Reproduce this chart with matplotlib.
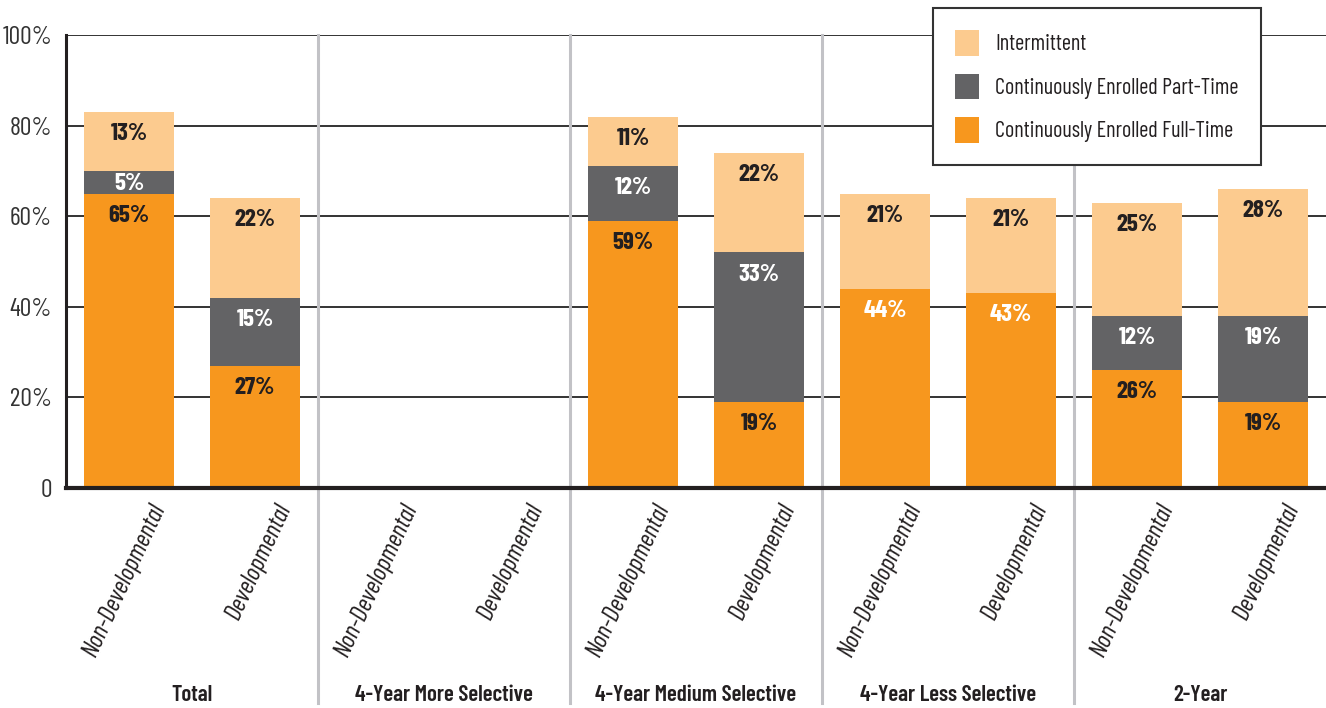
import numpy as np
import matplotlib.pyplot as plt

plt.rcParams['font.family'] = ['Barlow Condensed', 'DejaVu Sans']

# data
groups = ['Total', '4-Year More Selective', '4-Year Medium Selective',
          '4-Year Less Selective', '2-Year']
subgroups = ['Non-Developmental', 'Developmental']
full_time = [65, 27, 0, 0, 59, 19, 44, 43, 26, 19]
part_time = [5, 15, 0, 0, 12, 33, 0, 0, 12, 19]
intermittent = [13, 22, 0, 0, 11, 22, 21, 21, 25, 28]
series_names = ['Continuously Enrolled Full-Time',
                'Continuously Enrolled Part-Time', 'Intermittent']

c_full = '#F7971E'
c_part = '#636365'
c_int = '#FCCB8F'
dark = '#231F20'

fig = plt.figure(figsize=(13.26, 7.08), dpi=100)
ax = fig.add_axes([66/1326, 1-488/708, 1-66/1326, 453/708])

x = np.arange(len(full_time)) + 0.5
w = 0.72
full_time = np.array(full_time)
part_time = np.array(part_time)
intermittent = np.array(intermittent)

b1 = ax.bar(x, full_time, w, color=c_full, zorder=3, label=series_names[0])
b2 = ax.bar(x, part_time, w, bottom=full_time, color=c_part, zorder=3,
            label=series_names[1])
b3 = ax.bar(x, intermittent, w, bottom=full_time + part_time, color=c_int,
            zorder=3, label=series_names[2])

# value labels just under each segment top
def put_labels(vals, bottoms, colors):
    for xi, v, b, col in zip(x, vals, bottoms, colors):
        if v <= 0:
            continue
        off = -1.5 if v < 8 else -8
        ax.annotate('%d%%' % v, (xi, b + v), xytext=(0, off),
                    textcoords='offset points', ha='center', va='top',
                    fontsize=18, fontweight='bold', color=col, zorder=5)

full_cols = [dark] * 10
full_cols[6] = full_cols[7] = 'white'
put_labels(full_time, np.zeros(10), full_cols)
put_labels(part_time, full_time, ['white'] * 10)
put_labels(intermittent, full_time + part_time, [dark] * 10)

ax.set_xlim(0, 10)
ax.set_ylim(0, 100)
ax.set_yticks([0, 20, 40, 60, 80, 100])
ax.set_yticklabels(['0', '20%', '40%', '60%', '80%', '100%'])
ax.tick_params(axis='y', length=0, pad=10, labelsize=18.5, labelcolor='#333333')
ax.set_xticks([])
ax.yaxis.grid(True, color='#333333', linewidth=1.4, zorder=1)
ax.set_axisbelow(True)

for s in ['top', 'right']:
    ax.spines[s].set_visible(False)
ax.spines['left'].set_linewidth(2.2)
ax.spines['left'].set_color(dark)
ax.spines['bottom'].set_linewidth(3)
ax.spines['bottom'].set_color(dark)
ax.spines['bottom'].set_zorder(4)

# group separators run down past the axis
for sx in [2, 4, 6, 8]:
    ax.axvline(sx, ymin=-0.475, ymax=1, color='#C2C2C6', linewidth=2.2,
               clip_on=False, zorder=2)

# rotated category labels
for i, xi in enumerate(x):
    ax.text(xi + 0.24, -3.6, subgroups[i % 2], rotation=65,
            rotation_mode='anchor', ha='right', va='center', fontsize=18.5,
            fontstyle='italic', color=dark)

for gi, g in enumerate(groups):
    ax.text(2 * gi + 1, -45.7, g, ha='center', va='center', fontsize=16.5,
            fontweight='semibold', color=dark)

handles = [b3, b2, b1]
leg = ax.legend(handles, [h.get_label() for h in handles], loc='upper left',
                bbox_to_anchor=(933/1326, 1-8/708), bbox_transform=fig.transFigure,
                fontsize=16, frameon=True, fancybox=False, framealpha=1,
                edgecolor='#333333', handlelength=1.06, handleheight=1.4,
                labelspacing=0.8, borderpad=1.0, handletextpad=0.75,
                borderaxespad=0)
leg.get_frame().set_linewidth(1.5)
leg.set_zorder(6)
for t in leg.get_texts():
    t.set_color(dark)

fig.savefig('out.png', dpi=100)
